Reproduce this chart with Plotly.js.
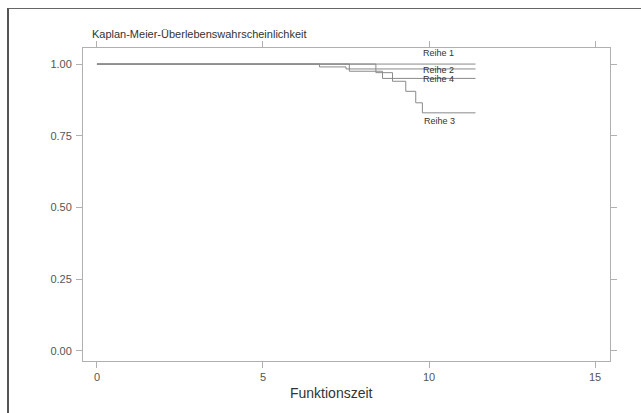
<!DOCTYPE html>
<html><head><meta charset="utf-8">
<script src="https://cdn.plot.ly/plotly-3.0.1.min.js"></script>
<style>
body{margin:0;background:#fff;}
#frame{position:absolute;left:7px;top:8px;width:640px;height:410px;border-left:2px solid #555;border-top:1px solid #666;pointer-events:none;z-index:5;}
#chart{position:absolute;left:0;top:0;width:641px;height:413px;}
</style></head>
<body>
<div id="chart"></div><div id="frame"></div>
<script>
const seriesNames = ["Reihe 1", "Reihe 2", "Reihe 3", "Reihe 4"];
const r1_t = [0, 11.4];
const r1_s = [1.0, 1.0];
const r2_t = [0, 6.7, 7.5, 11.4];
const r2_s = [1.0, 0.99, 0.983, 0.983];
const r3_t = [0, 8.4, 8.9, 9.3, 9.6, 9.8, 11.4];
const r3_s = [1.0, 0.97, 0.94, 0.905, 0.865, 0.83, 0.83];
const r4_t = [0, 7.6, 8.6, 11.4];
const r4_s = [1.0, 0.975, 0.95, 0.95];
const labelT = [9.75, 9.75, 9.8, 9.75];
const labelY = [1.04, 0.978, 0.80, 0.948];
const xTicks = [0, 5, 10, 15];
const yTicks = [0, 0.25, 0.5, 0.75, 1.0];
const yTickText = ["0.00", "0.25", "0.50", "0.75", "1.00"];

const lineCol = "#8a8a8a";
const series = [[r1_t, r1_s], [r2_t, r2_s], [r3_t, r3_s], [r4_t, r4_s]];
const data = series.map((s, i) => ({
  x: s[0], y: s[1], type: "scatter", mode: "lines", name: seriesNames[i],
  line: {shape: "hv", color: lineCol, width: 1}, showlegend: false
}));

const annotations = seriesNames.map((n, i) => ({
  x: labelT[i], y: labelY[i], xref: "x", yref: "y", text: n, showarrow: false,
  xanchor: "left", yanchor: "middle", font: {family: "Liberation Sans, Arial", size: 9, color: "#333"}
}));
annotations.push({
  x: 0.472, y: -0.07, xref: "paper", yref: "paper", text: "Funktionszeit", showarrow: false,
  xanchor: "center", yanchor: "top", font: {family: "Liberation Sans, Arial", size: 14, color: "#333"}
});

const layout = {
  width: 641, height: 413,
  margin: {l: 83, r: 31, t: 48, b: 52},
  paper_bgcolor: "#fff", plot_bgcolor: "#fff",
  font: {family: "Liberation Sans, Arial", color: "#333"},
  title: {text: "Kaplan-Meier-Überlebenswahrscheinlichkeit", xref: "paper", x: 0.017, xanchor: "left",
          yref: "container", y: 0.918, yanchor: "middle",
          font: {family: "Liberation Sans, Arial", size: 11, color: "#333"}},
  xaxis: {range: [-0.42, 15.45], tickvals: xTicks, ticktext: xTicks.map(String),
          showgrid: false, zeroline: false, showline: true, mirror: "ticks", linecolor: "#b0b0b0", linewidth: 1,
          ticks: "outside", ticklen: 6, tickcolor: "#b0b0b0", tickfont: {size: 11, color: "#555"}},
  yaxis: {range: [-0.035, 1.056], tickvals: yTicks, ticktext: yTickText,
          showgrid: false, zeroline: false, showline: true, mirror: "ticks", linecolor: "#b0b0b0", linewidth: 1,
          ticks: "outside", ticklen: 6, tickcolor: "#b0b0b0", ticklabelstandoff: 2, tickfont: {size: 11, color: "#555"}},
  annotations: annotations
};
Plotly.newPlot("chart", data, layout, {staticPlot: true});
</script>
</body></html>
